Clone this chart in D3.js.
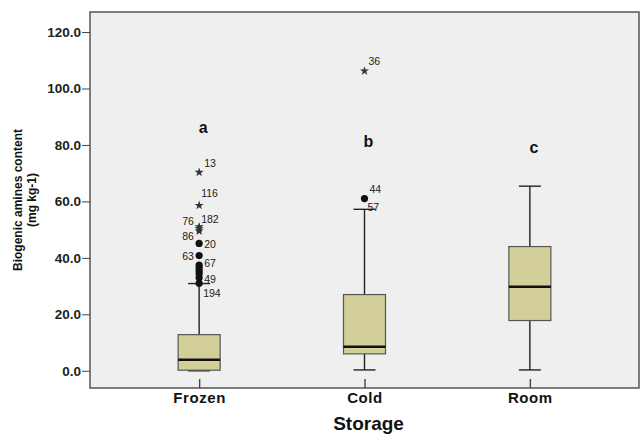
<!DOCTYPE html>
<html>
<head>
<meta charset="utf-8">
<script src="https://cdn.jsdelivr.net/npm/d3@7"></script>
<style>
  body { margin: 0; background: #fff; }
  text { font-family: Arial, "Liberation Sans", sans-serif; }
</style>
</head>
<body>
<div id="chart"></div>
<script>
// Storage groups and box statistics (mg kg-1)
var categories = ["Frozen", "Cold", "Room"];
var whiskerLow = [0, 0.3, 0.3];
var q1 = [0.2, 6.0, 17.8];
var median = [3.9, 8.5, 29.8];
var q3 = [12.8, 27.0, 44.0];
var whiskerHigh = [30.9, 57.2, 65.4];
var groupLetters = ["a", "b", "c"];
var letterValue = [84.1, 79.2, 77.0];

// Outliers: circles = mild, stars = extreme
var outlierGroup = ["Frozen", "Frozen", "Frozen", "Frozen", "Frozen", "Frozen", "Frozen", "Frozen", "Cold"];
var outlierValue = [45.1, 40.8, 37.4, 36.4, 35.4, 34.5, 33.0, 31.0, 61.0];
var extremeGroup = ["Frozen", "Frozen", "Frozen", "Frozen", "Frozen", "Cold"];
var extremeValue = [70.3, 58.6, 51.0, 50.3, 49.5, 106.2];

// Case labels next to the markers
var caseLabel = ["13", "116", "182", "76", "86", "20", "63", "67", "49", "194", "36", "44", "57"];
var caseGroup = ["Frozen", "Frozen", "Frozen", "Frozen", "Frozen", "Frozen", "Frozen", "Frozen", "Frozen", "Frozen", "Cold", "Cold", "Cold"];
var caseValue = [70.3, 58.6, 50.3, 50.3, 49.5, 45.1, 40.8, 37.4, 33.0, 31.0, 106.2, 61.0, 57.2];
var yTicks = [0, 20, 40, 60, 80, 100, 120];

// label offsets (px) from the marker
var labelOffset = {
  "13": [5, -5], "116": [2, -8], "182": [2, -6], "76": [-17, -4], "86": [-17, 9],
  "20": [5, 5], "63": [-17, 4], "67": [5, 2], "49": [5, 5], "194": [4, 14],
  "36": [4, -6], "44": [5, -6], "57": [3, 2]
};

var svgWidth = 644, svgHeight = 435;
var plot = { left: 90, right: 639, top: 12, bottom: 388 };

var svg = d3.select("#chart").append("svg")
  .attr("width", svgWidth)
  .attr("height", svgHeight);

var x = d3.scalePoint()
  .domain(categories)
  .range([plot.left, plot.right])
  .padding(0.66);

var y = d3.scaleLinear()
  .domain([-6.1, 127.1])
  .range([plot.bottom, plot.top]);

// plot background
svg.append("rect")
  .attr("x", plot.left).attr("y", plot.top)
  .attr("width", plot.right - plot.left)
  .attr("height", plot.bottom - plot.top)
  .attr("fill", "#efefef");

var boxW = 42, capW = 22;

var boxes = categories.map(function(c, i) {
  return { cat: c, lo: whiskerLow[i], q1: q1[i], med: median[i], q3: q3[i], hi: whiskerHigh[i] };
});

var g = svg.append("g");

// whiskers
g.selectAll(".whisker")
  .data(boxes).enter().append("line")
  .attr("x1", d => x(d.cat)).attr("x2", d => x(d.cat))
  .attr("y1", d => y(d.lo)).attr("y2", d => y(d.hi))
  .attr("stroke", "#222").attr("stroke-width", 1.4);

["lo", "hi"].forEach(function(k) {
  g.selectAll(".cap-" + k)
    .data(boxes).enter().append("line")
    .attr("x1", d => x(d.cat) - capW / 2).attr("x2", d => x(d.cat) + capW / 2)
    .attr("y1", d => y(d[k])).attr("y2", d => y(d[k]))
    .attr("stroke", "#222").attr("stroke-width", 1.4);
});

// boxes
g.selectAll(".box")
  .data(boxes).enter().append("rect")
  .attr("x", d => x(d.cat) - boxW / 2)
  .attr("width", boxW)
  .attr("y", d => y(d.q3))
  .attr("height", d => y(d.q1) - y(d.q3))
  .attr("fill", "#d3cf98")
  .attr("stroke", "#555")
  .attr("stroke-width", 1.2);

// medians
g.selectAll(".median")
  .data(boxes).enter().append("line")
  .attr("x1", d => x(d.cat) - boxW / 2).attr("x2", d => x(d.cat) + boxW / 2)
  .attr("y1", d => y(d.med)).attr("y2", d => y(d.med))
  .attr("stroke", "#111").attr("stroke-width", 2.5);

// mild outliers
g.selectAll(".outlier")
  .data(outlierValue).enter().append("circle")
  .attr("cx", (d, i) => x(outlierGroup[i]))
  .attr("cy", d => y(d))
  .attr("r", 3.6)
  .attr("fill", "#111");

// extreme outliers
var star = d3.symbol().type(d3.symbolStar).size(26);
g.selectAll(".extreme")
  .data(extremeValue).enter().append("path")
  .attr("d", star)
  .attr("transform", (d, i) => `translate(${x(extremeGroup[i])},${y(d)})`)
  .attr("fill", "#333");

// case labels
g.selectAll(".case")
  .data(caseLabel).enter().append("text")
  .attr("x", (d, i) => x(caseGroup[i]) + labelOffset[d][0])
  .attr("y", (d, i) => y(caseValue[i]) + labelOffset[d][1])
  .attr("font-size", "10.5px")
  .attr("fill", "#222")
  .text(d => d);

// group letters
g.selectAll(".letter")
  .data(groupLetters).enter().append("text")
  .attr("x", (d, i) => x(categories[i]) + 4)
  .attr("y", (d, i) => y(letterValue[i]))
  .attr("text-anchor", "middle")
  .attr("font-size", "16px")
  .attr("font-weight", "bold")
  .attr("fill", "#111")
  .text(d => d);

// frame
svg.append("rect")
  .attr("x", plot.left).attr("y", plot.top)
  .attr("width", plot.right - plot.left)
  .attr("height", plot.bottom - plot.top)
  .attr("fill", "none")
  .attr("stroke", "#555")
  .attr("stroke-width", 1.5);

// y axis
var yAxis = svg.append("g")
  .attr("transform", `translate(${plot.left},0)`)
  .call(d3.axisLeft(y).tickValues(yTicks).tickSize(8).tickPadding(1).tickFormat(d3.format(".1f")));
yAxis.select(".domain").remove();
yAxis.selectAll(".tick line").attr("stroke", "#444");
yAxis.selectAll("text")
  .attr("font-size", "13.5px")
  .attr("font-weight", "bold")
  .attr("font-family", "Arial, 'Liberation Sans', sans-serif")
  .attr("fill", "#222");

// x axis (ticks point inward)
var xAxis = svg.append("g")
  .attr("transform", `translate(0,${plot.bottom})`)
  .call(d3.axisBottom(x).tickSize(-9).tickPadding(6));
xAxis.select(".domain").remove();
xAxis.selectAll(".tick line").attr("stroke", "#444").attr("stroke-width", 1.4);
xAxis.selectAll("text")
  .attr("y", 4)
  .attr("font-size", "15px")
  .attr("font-weight", "bold")
  .attr("letter-spacing", "0.6px")
  .attr("font-family", "Arial, 'Liberation Sans', sans-serif")
  .attr("fill", "#111");

// axis titles
svg.append("text")
  .attr("x", (plot.left + plot.right) / 2 + 4)
  .attr("y", 430)
  .attr("text-anchor", "middle")
  .attr("font-size", "19px")
  .attr("font-weight", "bold")
  .attr("fill", "#111")
  .text("Storage");

var yTitle = svg.append("text")
  .attr("transform", "translate(22,200) rotate(-90)")
  .attr("text-anchor", "middle")
  .attr("font-size", "12px")
  .attr("font-weight", "bold")
  .attr("fill", "#111");
yTitle.append("tspan").attr("x", 0).attr("y", 0).text("Biogenic amines content");
yTitle.append("tspan").attr("x", 0).attr("y", 14).text("(mg kg-1)");
</script>
</body>
</html>
